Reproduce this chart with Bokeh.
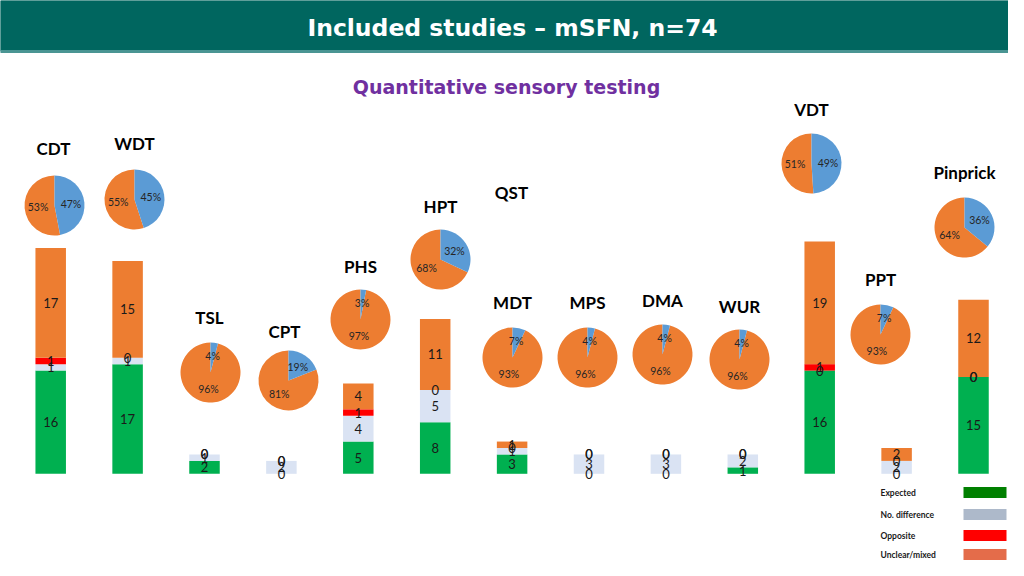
import math
from bokeh.plotting import figure
from bokeh.models import Range1d, ColumnDataSource
from bokeh.core.properties import value
from bokeh.embed import file_html
from bokeh.resources import INLINE

# ---------------- data ----------------
tests = ["CDT", "WDT", "TSL", "CPT", "PHS", "HPT", "MDT", "MPS", "DMA", "WUR", "VDT", "PPT", "Pinprick"]
expected = [16, 17, 2, 0, 5, 8, 3, 0, 0, 1, 16, 0, 15]
no_difference = [1, 1, 1, 2, 4, 5, 1, 3, 3, 2, 0, 2, 0]
opposite = [1, 0, 0, 0, 1, 0, 0, 0, 0, 0, 1, 0, 0]
unclear_mixed = [17, 15, 0, 0, 4, 11, 1, 0, 0, 0, 19, 2, 12]
pie_blue_pct = [47, 45, 4, 19, 3, 32, 7, 4, 4, 4, 49, 7, 36]
pie_orange_pct = [53, 55, 96, 81, 97, 68, 93, 96, 96, 96, 51, 93, 64]
legend_labels = ["Expected", "No. difference", "Opposite", "Unclear/mixed"]
title_text = "Included studies \u2013 mSFN, n=74"
subtitle_text = "Quantitative sensory testing"
group_label = "QST"

# ---------------- layout (reference pixel coordinates) ----------------
W, H = 1008, 560
def Y(ry):
    return 576 - ry

bar_x0, bar_dx, bar_w = 50.2, 76.9, 30.5
baseline_ry, px_per_unit = 473.3, 6.45
label_pos = [(53, 148), (134, 143), (209, 317), (284, 331), (360, 266), (440, 206), (512, 302),
             (587, 302), (662, 300), (739, 306), (811, 109), (880, 279), (964, 172)]
pie_pos = [(54, 205), (134, 199), (210, 372), (288, 380), (360, 319), (440, 259), (512, 357),
           (587, 357), (662, 354), (739, 359), (811, 163), (880, 334), (964, 227)]
pie_r = 30

bar_colors = ["#00B050", "#DAE3F3", "#FF0000", "#ED7D31"]
legend_colors = ["#008000", "#ADB9CA", "#FF0000", "#E46C4A"]
pie_blue, pie_orange = "#5B9BD5", "#ED7D31"

p = figure(width=W, height=H, x_range=Range1d(0, W), y_range=Range1d(576 - H, 576),
           output_backend="svg", toolbar_location=None, min_border=0)
p.axis.visible = False
p.grid.visible = False
p.outline_line_color = None
p.background_fill_color = "white"
p.border_fill_color = "white"

v_start = (baseline_ry - H) / px_per_unit
v_end = (baseline_ry - 0) / px_per_unit
p.extra_y_ranges = {"val": Range1d(v_start, v_end)}

# title bar
p.quad(left=0, right=1024, top=Y(0), bottom=Y(50), color="#00665F")
p.quad(left=0, right=1024, top=Y(50), bottom=Y(52), color="#4A9593")
p.text(x=[512], y=[Y(27)], text=[title_text], text_color="white", text_font=value("DejaVu Sans"),
       text_font_style="bold", text_font_size="23.5px", text_align="center", text_baseline="middle")
p.text(x=[506], y=[Y(86)], text=[subtitle_text], text_color="#7030A0", text_font=value("DejaVu Sans"),
       text_font_style="bold", text_font_size="19px", text_align="center", text_baseline="middle")

# stacked bars
xs = [bar_x0 + bar_dx * i for i in range(len(tests))]
src = ColumnDataSource(dict(x=xs, expected=expected, no_difference=no_difference,
                            opposite=opposite, unclear_mixed=unclear_mixed))
p.vbar_stack(["expected", "no_difference", "opposite", "unclear_mixed"], x="x", width=bar_w,
             color=bar_colors, source=src, y_range_name="val", line_width=0)

lx, ly, lt = [], [], []
for i in range(len(tests)):
    bottom = 0
    for series in (expected, no_difference, opposite, unclear_mixed):
        v = series[i]
        lx.append(xs[i]); ly.append(bottom + v / 2); lt.append(str(v))
        bottom += v
p.text(x=lx, y=ly, text=lt, y_range_name="val", text_font=value("Lato"), text_font_size="13px",
       text_color="#1a1a1a", text_align="center", text_baseline="middle")

# test labels
p.text(x=[a for a, b in label_pos], y=[Y(b) for a, b in label_pos], text=tests,
       text_font=value("Lato"), text_font_style="bold", text_font_size="17px",
       text_color="black", text_align="center", text_baseline="middle")
p.text(x=[511], y=[Y(192)], text=[group_label], text_font=value("Lato"), text_font_style="bold",
       text_font_size="17px", text_color="black", text_align="center", text_baseline="middle")

# pies
px_, py_, bs, be, os_, oe = [], [], [], [], [], []
tx, ty, tt = [], [], []
for i in range(len(tests)):
    cx, cy = pie_pos[i][0], Y(pie_pos[i][1])
    f = pie_blue_pct[i] / (pie_blue_pct[i] + pie_orange_pct[i])
    top = math.pi / 2
    split = top - 2 * math.pi * f
    px_.append(cx); py_.append(cy)
    bs.append(split); be.append(top)
    os_.append(top); oe.append(split)
    mb = top - math.pi * f
    mo = split - math.pi * (1 - f)
    rr = pie_r * 0.55
    tx += [cx + rr * math.cos(mb), cx + rr * math.cos(mo)]
    ty += [cy + rr * math.sin(mb), cy + rr * math.sin(mo)]
    tt += [f"{pie_blue_pct[i]}%", f"{pie_orange_pct[i]}%"]
p.wedge(x=px_, y=py_, radius=pie_r, start_angle=os_, end_angle=oe, color=pie_orange, line_width=0)
p.wedge(x=px_, y=py_, radius=pie_r, start_angle=bs, end_angle=be, color=pie_blue, line_width=0)
p.text(x=tx, y=ty, text=tt, text_font=value("Lato"), text_font_size="10.5px", text_color="#262626",
       text_align="center", text_baseline="middle")

# legend (kept inside the 1008x560 canvas)
leg_y = [492, 514, 535, 554]
p.text(x=[880] * 4, y=[Y(v) for v in leg_y], text=legend_labels, text_font=value("Lato"),
       text_font_style="bold", text_font_size="8.5px", text_color="#1a1a1a",
       text_align="left", text_baseline="middle")
p.quad(left=[963] * 4, right=[1006] * 4, top=[Y(v) + 5.5 for v in leg_y],
       bottom=[Y(v) - 5.5 for v in leg_y], color=legend_colors, line_width=0)

open("out.html", "w").write(file_html(p, INLINE))
